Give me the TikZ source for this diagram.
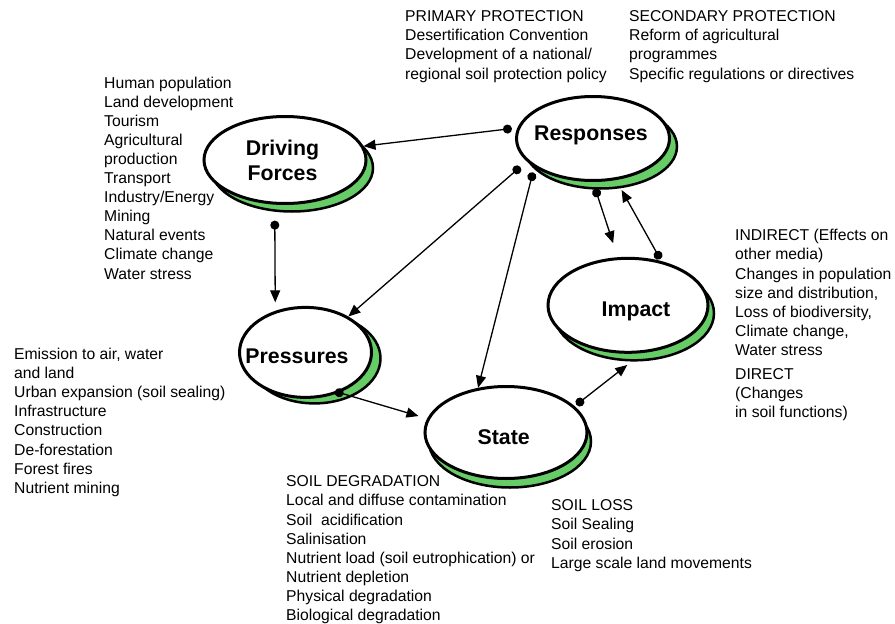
\documentclass[tikz,border=0pt]{standalone}
\usepackage{fontspec}
\setmainfont{Liberation Sans}
\usetikzlibrary{arrows.meta,shapes.geometric}
\definecolor{shadowgreen}{RGB}{102,204,102}
\begin{document}
\begin{tikzpicture}[x=1pt,y=-1pt,
  ell/.style={ellipse,draw=black,line width=3pt,fill=white,inner sep=0pt},
  shad/.style={ellipse,draw=black,line width=2.5pt,fill=shadowgreen,inner sep=0pt},
  lbl/.style={anchor=base,inner sep=0pt,font=\fontsize{21.3}{25.5}\selectfont\bfseries},
  lst/.style={anchor=base west,inner sep=0pt,font=\fontsize{15.7}{19.1}\selectfont},
  conn/.style={line width=1.3pt,{Circle[length=9pt]}-{Triangle[length=12pt,width=10pt]}}
]
\useasboundingbox (0,0) rectangle (895,624);
\fill[white] (0,0) rectangle (895,624);

% shadows
\node[shad,minimum width=162pt,minimum height=87pt] (dfs) at (292,168) {};
\node[shad,minimum width=153pt,minimum height=84pt] (resps) at (600.5,146.5) {};
\node[shad,minimum width=132pt,minimum height=90pt] (press) at (314.5,358.4) {};
\node[shad,minimum width=162pt,minimum height=92pt] (states) at (510,441.5) {};
\node[shad,minimum width=160pt,minimum height=94pt] (imps) at (634,313.3) {};

% ellipses
\node[ell,minimum width=162pt,minimum height=87pt] (df) at (285,160) {};
\node[ell,minimum width=153pt,minimum height=84pt] (resp) at (593,138.5) {};
\node[ell,minimum width=132pt,minimum height=90pt] (pres) at (305.5,352.4) {};
\node[ell,minimum width=162pt,minimum height=92pt] (state) at (506,432.5) {};
\node[ell,minimum width=160pt,minimum height=94pt] (imp) at (628,305.3) {};

% labels
\node[lbl] (dflbl) at (282.5,155) {\begin{tabular}[t]{@{}c@{}}Driving\\Forces\end{tabular}};
\node[lbl] (resplbl) at (591,140) {Responses};
\node[lbl] (preslbl) at (297,363.3) {Pressures};
\node[lbl] (statelbl) at (503.7,444) {State};
\node[lbl] (implbl) at (636,316.7) {Impact};

% connectors
\draw[conn,shorten <=5.5pt] (resp.172.8) -- (df.10);
\draw[conn,shorten <=16pt,shorten >=8.5pt] (df.257.4) -- (pres.126.2);
\draw[conn,shorten <=8.4pt] (resp.199.2) -- (pres.40.7);
\draw[conn,shorten <=5.4pt] (resp.206.3) -- (state.122.5);
\draw[conn,shorten <=7pt,shorten >=14.7pt] (resp.270.7) -- (imp.102.3);
\draw[conn,shorten <=2.2pt,shorten >=11.4pt] (imp.53.2) -- (resp.299.5);
\draw[conn,shorten <=-4.5pt,shorten >=9pt] (pres.310.6) -- (state.170.8);
\draw[conn,shorten <=2.2pt,shorten >=19.4pt] (state.21) -- (imp.287.8);

% text blocks
\node[lst] (prim) at (405,21.7) {\begin{tabular}[t]{@{}l@{}}PRIMARY PROTECTION\\Desertification Convention\\Development of a national/\\regional soil protection policy\end{tabular}};
\node[lst] (sec) at (629,21.7) {\begin{tabular}[t]{@{}l@{}}SECONDARY PROTECTION\\Reform of agricultural\\programmes\\Specific regulations or directives\end{tabular}};
\node[lst] (dflist) at (104,88) {\begin{tabular}[t]{@{}l@{}}Human population\\Land development\\Tourism\\Agricultural\\production\\Transport\\Industry/Energy\\Mining\\Natural events\\Climate change\\Water stress\end{tabular}};
\node[lst] (preslist) at (14,359.5) {\begin{tabular}[t]{@{}l@{}}Emission to air, water\\and land\\Urban expansion (soil sealing)\\Infrastructure\\Construction\\De-forestation\\Forest fires\\Nutrient mining\end{tabular}};
\node[lst] (statelist) at (286,486.8) {\begin{tabular}[t]{@{}l@{}}SOIL DEGRADATION\\Local and diffuse contamination\\Soil~ acidification\\Salinisation\\Nutrient load (soil eutrophication) or\\Nutrient depletion\\Physical degradation\\Biological degradation\end{tabular}};
\node[lst] (losslist) at (551,510.8) {\begin{tabular}[t]{@{}l@{}}SOIL LOSS\\Soil Sealing\\Soil erosion\\Large scale land movements\end{tabular}};
\node[lst] (implist) at (735,240.8) {\begin{tabular}[t]{@{}l@{}}INDIRECT (Effects on\\other media)\\Changes in population\\size and distribution,\\Loss of biodiversity,\\Climate change,\\Water stress\\[5pt]DIRECT\\(Changes\\in soil functions)\end{tabular}};
\end{tikzpicture}
\end{document}
